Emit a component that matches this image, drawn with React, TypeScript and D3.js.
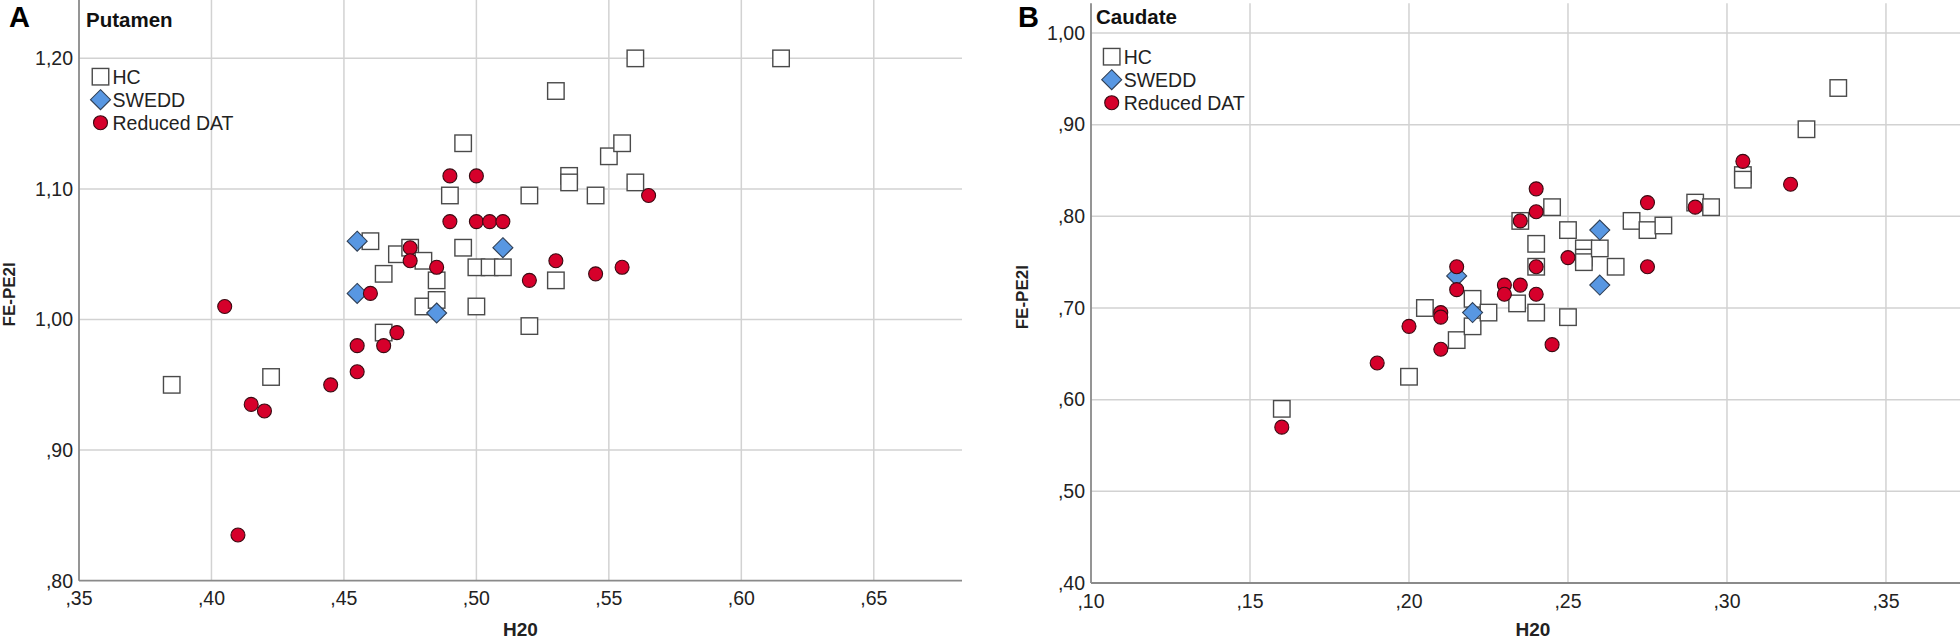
import React from "react";
import * as d3 from "d3";

// ---------- DATA (H20, FE-PE2I) ----------
const putamenHC: [number, number][] = [
  [0.385, 0.95], [0.4225, 0.956], [0.46, 1.06], [0.465, 1.035], [0.465, 0.99],
  [0.47, 1.05], [0.475, 1.055], [0.48, 1.045], [0.48, 1.01], [0.485, 1.03],
  [0.485, 1.015], [0.49, 1.095], [0.495, 1.135], [0.495, 1.055], [0.5, 1.04],
  [0.5, 1.01], [0.505, 1.04], [0.51, 1.04], [0.52, 1.095], [0.52, 0.995],
  [0.53, 1.175], [0.53, 1.03], [0.535, 1.11], [0.535, 1.105], [0.545, 1.095],
  [0.55, 1.125], [0.555, 1.135], [0.56, 1.105], [0.56, 1.2], [0.615, 1.2],
];
const putamenSWEDD: [number, number][] = [
  [0.455, 1.06], [0.455, 1.02], [0.485, 1.005], [0.51, 1.055],
];
const putamenDAT: [number, number][] = [
  [0.405, 1.01], [0.41, 0.835], [0.415, 0.935], [0.42, 0.93], [0.445, 0.95],
  [0.455, 0.98], [0.455, 0.96], [0.46, 1.02], [0.465, 0.98], [0.47, 0.99],
  [0.475, 1.055], [0.475, 1.045], [0.485, 1.04], [0.49, 1.11], [0.49, 1.075],
  [0.5, 1.11], [0.5, 1.075], [0.505, 1.075], [0.51, 1.075], [0.52, 1.03],
  [0.53, 1.045], [0.545, 1.035], [0.555, 1.04], [0.565, 1.095],
];

const caudateHC: [number, number][] = [
  [0.16, 0.59], [0.2, 0.625], [0.205, 0.7], [0.215, 0.665], [0.22, 0.71],
  [0.22, 0.68], [0.225, 0.695], [0.234, 0.705], [0.235, 0.795], [0.24, 0.77],
  [0.24, 0.745], [0.24, 0.695], [0.245, 0.81], [0.25, 0.785], [0.25, 0.69],
  [0.255, 0.765], [0.255, 0.755], [0.255, 0.75], [0.26, 0.765], [0.265, 0.745],
  [0.27, 0.795], [0.275, 0.785], [0.28, 0.79], [0.29, 0.815], [0.295, 0.81],
  [0.305, 0.845], [0.305, 0.84], [0.325, 0.895], [0.335, 0.94],
];
const caudateSWEDD: [number, number][] = [
  [0.215, 0.735], [0.22, 0.695], [0.26, 0.785], [0.26, 0.725],
];
const caudateDAT: [number, number][] = [
  [0.16, 0.57], [0.19, 0.64], [0.2, 0.68], [0.21, 0.695], [0.21, 0.69],
  [0.21, 0.655], [0.215, 0.745], [0.215, 0.72], [0.23, 0.725], [0.23, 0.715],
  [0.235, 0.795], [0.235, 0.725], [0.24, 0.83], [0.24, 0.805], [0.24, 0.745],
  [0.24, 0.715], [0.245, 0.66], [0.25, 0.755], [0.275, 0.815], [0.275, 0.745],
  [0.29, 0.81], [0.305, 0.86], [0.32, 0.835],
];

const putamenXTicks = [0.35, 0.4, 0.45, 0.5, 0.55, 0.6, 0.65];
const putamenYTicks = [0.8, 0.9, 1.0, 1.1, 1.2];
const caudateXTicks = [0.1, 0.15, 0.2, 0.25, 0.3, 0.35];
const caudateYTicks = [0.4, 0.5, 0.6, 0.7, 0.8, 0.9, 1.0];

const legendLabels = ["HC", "SWEDD", "Reduced DAT"];

// ---------- STYLE ----------
const FONT = "'Liberation Sans', Arial, sans-serif";
const RED = "#d6002b";
const BLUE = "#5897e2";
const GRID = "#d2d2d2";
const AXIS = "#8a8a8a";

const fmt = (v: number) => d3.format(".2f")(v).replace(/^0\./, ".").replace(".", ",");

function Square({ cx, cy }: { cx: number; cy: number }) {
  const s = 16.5;
  return <rect x={cx - s / 2} y={cy - s / 2} width={s} height={s} fill="#fff" stroke="#4a4a4a" strokeWidth={1.4} />;
}
function Diamond({ cx, cy }: { cx: number; cy: number }) {
  const r = 10;
  return (
    <path
      d={`M${cx},${cy - r}L${cx + r},${cy}L${cx},${cy + r}L${cx - r},${cy}Z`}
      fill={BLUE}
      stroke="#2f3f55"
      strokeWidth={1.1}
    />
  );
}
function Dot({ cx, cy }: { cx: number; cy: number }) {
  return <circle cx={cx} cy={cy} r={7} fill={RED} stroke="#3a0a12" strokeWidth={1.1} />;
}

type PanelProps = {
  letter: string;
  letterX: number;
  title: string;
  titleX: number;
  titleY: number;
  xDomain: [number, number];
  xRange: [number, number];
  yDomain: [number, number];
  yRange: [number, number];
  xTicks: number[];
  yTicks: number[];
  hc: [number, number][];
  swedd: [number, number][];
  dat: [number, number][];
  legendX: number;
  legendY: number;
  yTitleX: number;
  xTitleX: number;
  clipRight: number;
};

function Panel(p: PanelProps) {
  const x = d3.scaleLinear().domain(p.xDomain).range(p.xRange);
  const y = d3.scaleLinear().domain(p.yDomain).range(p.yRange);
  const [x0, x1] = p.xRange;
  const [yb, yt] = p.yRange;
  const right = Math.min(x1, p.clipRight);
  const yCenter = (yb + yt) / 2;
  const legendGap = 23;
  return (
    <g>
      {/* grid */}
      {p.xTicks.slice(1).map((t) => (
        <line key={"gx" + t} x1={x(t)} x2={x(t)} y1={yt} y2={yb} stroke={GRID} strokeWidth={1.5} />
      ))}
      {p.yTicks.slice(1).map((t) => (
        <line key={"gy" + t} x1={x0} x2={right} y1={y(t)} y2={y(t)} stroke={GRID} strokeWidth={1.5} />
      ))}
      {/* axes */}
      <line x1={x0} x2={x0} y1={yt} y2={yb} stroke={AXIS} strokeWidth={1.8} />
      <line x1={x0} x2={right} y1={yb} y2={yb} stroke={AXIS} strokeWidth={1.8} />
      {/* tick labels */}
      {p.yTicks.map((t) => (
        <text key={"ty" + t} x={x0 - 6} y={y(t)} dy="0.35em" textAnchor="end" fontSize={19.5} fontFamily={FONT} fill="#222">
          {fmt(t)}
        </text>
      ))}
      {p.xTicks.map((t) => (
        <text key={"tx" + t} x={x(t)} y={yb + 24.5} textAnchor="middle" fontSize={19.5} fontFamily={FONT} fill="#222">
          {fmt(t)}
        </text>
      ))}
      {/* axis titles */}
      <text x={p.xTitleX} y={636} textAnchor="middle" fontSize={19} fontWeight="bold" fontFamily={FONT} fill="#222">
        H20
      </text>
      <text
        transform={`translate(${p.yTitleX},${yCenter + 4}) rotate(-90)`}
        textAnchor="middle"
        fontSize={17}
        fontWeight="bold"
        fontFamily={FONT}
        fill="#222"
      >
        FE-PE2I
      </text>
      {/* panel letter and title */}
      <text x={p.letterX} y={27} fontSize={29} fontWeight="bold" fontFamily={FONT} fill="#000">
        {p.letter}
      </text>
      <text x={p.titleX} y={p.titleY} fontSize={20.5} fontWeight="bold" fontFamily={FONT} fill="#111">
        {p.title}
      </text>
      {/* points */}
      {p.hc.map((d, i) => (
        <Square key={"h" + i} cx={x(d[0])} cy={y(d[1])} />
      ))}
      {p.swedd.map((d, i) => (
        <Diamond key={"s" + i} cx={x(d[0])} cy={y(d[1])} />
      ))}
      {p.dat.map((d, i) => (
        <Dot key={"d" + i} cx={x(d[0])} cy={y(d[1])} />
      ))}
      {/* legend */}
      <g>
        <Square cx={p.legendX} cy={p.legendY} />
        <Diamond cx={p.legendX} cy={p.legendY + legendGap} />
        <Dot cx={p.legendX} cy={p.legendY + 2 * legendGap} />
        {legendLabels.map((l, i) => (
          <text
            key={l}
            x={p.legendX + 12}
            y={p.legendY + i * legendGap}
            dy="0.36em"
            fontSize={19.5}
            fontFamily={FONT}
            fill="#222"
          >
            {l}
          </text>
        ))}
      </g>
    </g>
  );
}

export default function App() {
  return (
    <div>
      <style>{`body{margin:0;background:#fff}`}</style>
      <svg width={1960} height={642} viewBox="0 0 1960 642" style={{ display: "block" }}>
        <rect width={1960} height={642} fill="#fff" />
        <Panel
          letter="A"
          letterX={9}
          title="Putamen"
          titleX={86}
          titleY={27}
          xDomain={[0.35, 0.6833]}
          xRange={[79, 962]}
          yDomain={[0.8, 1.2447]}
          yRange={[580.7, 0]}
          xTicks={putamenXTicks}
          yTicks={putamenYTicks}
          hc={putamenHC}
          swedd={putamenSWEDD}
          dat={putamenDAT}
          legendX={100.5}
          legendY={76.7}
          yTitleX={15}
          xTitleX={520.5}
          clipRight={962}
        />
        <Panel
          letter="B"
          letterX={1018}
          title="Caudate"
          titleX={1096}
          titleY={24}
          xDomain={[0.1, 0.378]}
          xRange={[1091, 1975]}
          yDomain={[0.4, 1.0324]}
          yRange={[583, 3.3]}
          xTicks={caudateXTicks}
          yTicks={caudateYTicks}
          hc={caudateHC}
          swedd={caudateSWEDD}
          dat={caudateDAT}
          legendX={1111.7}
          legendY={56.7}
          yTitleX={1028}
          xTitleX={1533}
          clipRight={1960}
        />
      </svg>
    </div>
  );
}
